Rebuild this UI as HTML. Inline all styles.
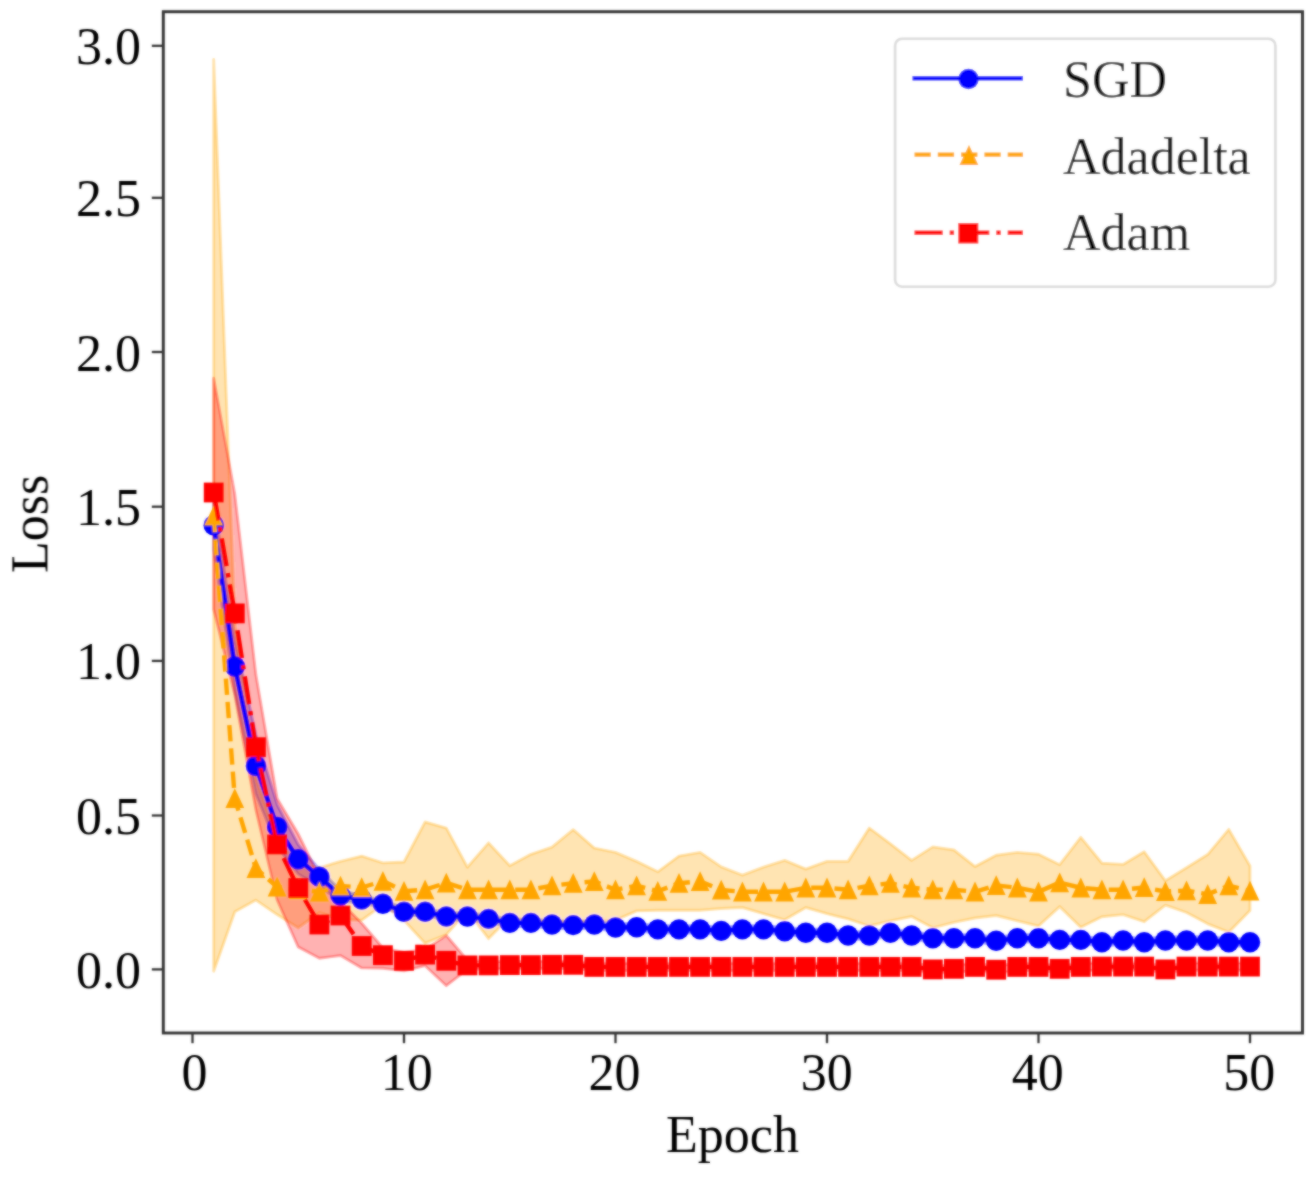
<!DOCTYPE html>
<html><head><meta charset="utf-8"><title>Loss vs Epoch</title>
<style>
html,body{margin:0;padding:0;background:#fff;width:1315px;height:1179px;overflow:hidden;font-family:"Liberation Serif",serif;}
svg{display:block;}
</style></head><body>
<svg width="1315" height="1179" viewBox="0 0 1315 1179">
<rect width="1315" height="1179" fill="#fff"/>
<defs><filter id="bl" x="0" y="0" width="1315" height="1179" filterUnits="userSpaceOnUse"><feGaussianBlur in="SourceGraphic" stdDeviation="0.8" result="b"/><feComposite in="b" in2="SourceGraphic" operator="arithmetic" k1="0" k2="0.65" k3="0.35" k4="0"/></filter></defs>
<g filter="url(#bl)">
<defs><clipPath id="ax"><rect x="163.3" y="11.7" width="1139.2" height="1021"/></clipPath></defs>
<g clip-path="url(#ax)">
<polygon points="213.7,500.5 234.8,639.3 255.9,735.1 277.1,804.7 298.2,844.7 319.4,869.4 340.5,890.0 361.7,895.8 382.9,900.1 404.0,908.1 425.1,908.1 446.3,912.8 467.4,912.8 488.6,915.2 509.8,919.2 530.9,919.2 552.0,920.8 573.2,921.4 594.3,920.8 615.5,923.8 636.6,923.5 657.8,925.7 679.0,925.7 700.1,925.7 721.2,927.2 742.4,925.7 763.5,925.7 784.7,927.5 805.8,929.1 827.0,929.1 848.1,931.8 869.3,931.8 890.4,929.1 911.6,931.8 932.8,934.6 953.9,934.6 975.0,934.6 996.2,937.1 1017.3,934.6 1038.5,934.6 1059.7,936.2 1080.8,936.2 1101.9,938.6 1123.1,936.8 1144.2,938.6 1165.4,936.8 1186.5,936.8 1207.7,936.8 1228.8,938.6 1250.0,938.6 1250.0,946.0 1228.8,946.0 1207.7,944.2 1186.5,944.2 1165.4,944.2 1144.2,946.0 1123.1,944.2 1101.9,946.0 1080.8,943.5 1059.7,943.5 1038.5,942.0 1017.3,942.0 996.2,944.5 975.0,942.0 953.9,942.0 932.8,942.0 911.6,939.2 890.4,936.5 869.3,939.2 848.1,939.2 827.0,936.5 805.8,936.5 784.7,934.9 763.5,933.1 742.4,933.1 721.2,934.6 700.1,933.1 679.0,933.1 657.8,933.1 636.6,930.9 615.5,931.2 594.3,928.2 573.2,928.8 552.0,928.2 530.9,926.6 509.8,926.6 488.6,922.6 467.4,920.2 446.3,920.2 425.1,915.5 404.0,915.5 382.9,907.5 361.7,903.2 340.5,901.1 319.4,886.3 298.2,874.0 277.1,846.3 255.9,793.9 234.8,691.8 213.7,549.9" fill="#0000ff" fill-opacity="0.3" stroke="#0000ff" stroke-opacity="0.3" stroke-width="2.9" stroke-linejoin="round"/>
<polygon points="213.7,59.5 234.8,623.9 255.9,778.4 277.1,840.1 298.2,864.7 319.4,867.8 340.5,861.4 361.7,856.1 382.9,862.9 404.0,862.0 425.1,822.0 446.3,828.1 467.4,867.2 488.6,842.9 509.8,865.7 530.9,854.3 552.0,847.2 573.2,829.7 594.3,848.1 615.5,852.4 636.6,861.4 657.8,871.8 679.0,856.1 700.1,852.4 721.2,866.9 742.4,875.2 763.5,867.2 784.7,860.4 805.8,869.1 827.0,861.4 848.1,861.4 869.3,828.1 890.4,843.8 911.6,860.4 932.8,846.9 953.9,850.0 975.0,866.6 996.2,855.2 1017.3,852.4 1038.5,854.3 1059.7,864.7 1080.8,837.4 1101.9,863.2 1123.1,864.4 1144.2,851.8 1165.4,880.8 1186.5,867.8 1207.7,854.6 1228.8,829.4 1250.0,866.0 1250.0,910.6 1228.8,932.2 1207.7,923.8 1186.5,912.5 1165.4,905.1 1144.2,921.7 1123.1,914.6 1101.9,916.8 1080.8,927.2 1059.7,906.6 1038.5,926.0 1017.3,920.8 996.2,915.5 975.0,918.0 953.9,922.3 932.8,927.8 911.6,916.5 890.4,920.8 869.3,926.0 848.1,918.9 827.0,913.7 805.8,907.5 784.7,919.8 763.5,913.7 742.4,907.5 721.2,908.5 700.1,910.3 679.0,910.3 657.8,910.3 636.6,910.9 615.5,920.2 594.3,921.7 573.2,921.7 552.0,921.7 530.9,921.7 509.8,917.1 488.6,938.6 467.4,910.9 446.3,934.6 425.1,943.2 404.0,920.2 382.9,904.8 361.7,920.2 340.5,919.2 319.4,912.5 298.2,927.8 277.1,914.6 255.9,900.1 234.8,911.8 213.7,971.2" fill="#ffa500" fill-opacity="0.3" stroke="#ffa500" stroke-opacity="0.3" stroke-width="2.9" stroke-linejoin="round"/>
<polygon points="213.7,378.3 234.8,494.3 255.9,674.8 277.1,798.5 298.2,834.0 319.4,877.1 340.5,901.7 361.7,923.2 382.9,947.9 404.0,952.5 425.1,949.4 446.3,935.5 467.4,960.2 488.6,961.7 509.8,961.4 530.9,961.4 552.0,961.1 573.2,961.1 594.3,963.2 615.5,963.2 636.6,963.2 657.8,963.2 679.0,963.2 700.1,963.2 721.2,963.2 742.4,963.2 763.5,963.2 784.7,963.2 805.8,963.2 827.0,963.2 848.1,963.2 869.3,963.2 890.4,963.2 911.6,963.2 932.8,965.7 953.9,965.1 975.0,963.2 996.2,966.0 1017.3,963.2 1038.5,963.2 1059.7,965.1 1080.8,963.2 1101.9,962.9 1123.1,962.9 1144.2,962.9 1165.4,965.7 1186.5,962.9 1207.7,962.9 1228.8,962.9 1250.0,962.9 1250.0,970.3 1228.8,970.3 1207.7,970.3 1186.5,970.3 1165.4,973.1 1144.2,970.3 1123.1,970.3 1101.9,970.3 1080.8,970.6 1059.7,972.5 1038.5,970.6 1017.3,970.6 996.2,973.4 975.0,970.6 953.9,972.5 932.8,973.1 911.6,970.6 890.4,970.6 869.3,970.6 848.1,970.6 827.0,970.6 805.8,970.6 784.7,970.6 763.5,970.6 742.4,970.6 721.2,970.6 700.1,970.6 679.0,970.6 657.8,970.6 636.6,970.6 615.5,970.6 594.3,970.6 573.2,968.5 552.0,968.5 530.9,968.8 509.8,968.8 488.6,969.1 467.4,969.4 446.3,985.7 425.1,965.7 404.0,970.9 382.9,968.2 361.7,967.9 340.5,955.5 319.4,958.3 298.2,946.9 277.1,899.8 255.9,809.9 234.8,695.2 213.7,609.4" fill="#ff0000" fill-opacity="0.3" stroke="#ff0000" stroke-opacity="0.3" stroke-width="2.9" stroke-linejoin="round"/>
<polyline points="213.7,525.2 234.8,666.5 255.9,766.0 277.1,826.9 298.2,859.2 319.4,876.8 340.5,895.5 361.7,899.5 382.9,903.8 404.0,911.8 425.1,911.8 446.3,916.5 467.4,916.5 488.6,918.9 509.8,922.9 530.9,922.9 552.0,924.5 573.2,925.1 594.3,924.5 615.5,927.5 636.6,927.2 657.8,929.4 679.0,929.4 700.1,929.4 721.2,930.9 742.4,929.4 763.5,929.4 784.7,931.2 805.8,932.8 827.0,932.8 848.1,935.5 869.3,935.5 890.4,932.8 911.6,935.5 932.8,938.3 953.9,938.3 975.0,938.3 996.2,940.8 1017.3,938.3 1038.5,938.3 1059.7,939.9 1080.8,939.9 1101.9,942.3 1123.1,940.5 1144.2,942.3 1165.4,940.5 1186.5,940.5 1207.7,940.5 1228.8,942.3 1250.0,942.3" fill="none" stroke="#0000ff" stroke-width="4.4" stroke-linejoin="round"/>
<circle cx="213.7" cy="525.2" r="10.2" fill="#0000ff"/><circle cx="234.8" cy="666.5" r="10.2" fill="#0000ff"/><circle cx="255.9" cy="766.0" r="10.2" fill="#0000ff"/><circle cx="277.1" cy="826.9" r="10.2" fill="#0000ff"/><circle cx="298.2" cy="859.2" r="10.2" fill="#0000ff"/><circle cx="319.4" cy="876.8" r="10.2" fill="#0000ff"/><circle cx="340.5" cy="895.5" r="10.2" fill="#0000ff"/><circle cx="361.7" cy="899.5" r="10.2" fill="#0000ff"/><circle cx="382.9" cy="903.8" r="10.2" fill="#0000ff"/><circle cx="404.0" cy="911.8" r="10.2" fill="#0000ff"/><circle cx="425.1" cy="911.8" r="10.2" fill="#0000ff"/><circle cx="446.3" cy="916.5" r="10.2" fill="#0000ff"/><circle cx="467.4" cy="916.5" r="10.2" fill="#0000ff"/><circle cx="488.6" cy="918.9" r="10.2" fill="#0000ff"/><circle cx="509.8" cy="922.9" r="10.2" fill="#0000ff"/><circle cx="530.9" cy="922.9" r="10.2" fill="#0000ff"/><circle cx="552.0" cy="924.5" r="10.2" fill="#0000ff"/><circle cx="573.2" cy="925.1" r="10.2" fill="#0000ff"/><circle cx="594.3" cy="924.5" r="10.2" fill="#0000ff"/><circle cx="615.5" cy="927.5" r="10.2" fill="#0000ff"/><circle cx="636.6" cy="927.2" r="10.2" fill="#0000ff"/><circle cx="657.8" cy="929.4" r="10.2" fill="#0000ff"/><circle cx="679.0" cy="929.4" r="10.2" fill="#0000ff"/><circle cx="700.1" cy="929.4" r="10.2" fill="#0000ff"/><circle cx="721.2" cy="930.9" r="10.2" fill="#0000ff"/><circle cx="742.4" cy="929.4" r="10.2" fill="#0000ff"/><circle cx="763.5" cy="929.4" r="10.2" fill="#0000ff"/><circle cx="784.7" cy="931.2" r="10.2" fill="#0000ff"/><circle cx="805.8" cy="932.8" r="10.2" fill="#0000ff"/><circle cx="827.0" cy="932.8" r="10.2" fill="#0000ff"/><circle cx="848.1" cy="935.5" r="10.2" fill="#0000ff"/><circle cx="869.3" cy="935.5" r="10.2" fill="#0000ff"/><circle cx="890.4" cy="932.8" r="10.2" fill="#0000ff"/><circle cx="911.6" cy="935.5" r="10.2" fill="#0000ff"/><circle cx="932.8" cy="938.3" r="10.2" fill="#0000ff"/><circle cx="953.9" cy="938.3" r="10.2" fill="#0000ff"/><circle cx="975.0" cy="938.3" r="10.2" fill="#0000ff"/><circle cx="996.2" cy="940.8" r="10.2" fill="#0000ff"/><circle cx="1017.3" cy="938.3" r="10.2" fill="#0000ff"/><circle cx="1038.5" cy="938.3" r="10.2" fill="#0000ff"/><circle cx="1059.7" cy="939.9" r="10.2" fill="#0000ff"/><circle cx="1080.8" cy="939.9" r="10.2" fill="#0000ff"/><circle cx="1101.9" cy="942.3" r="10.2" fill="#0000ff"/><circle cx="1123.1" cy="940.5" r="10.2" fill="#0000ff"/><circle cx="1144.2" cy="942.3" r="10.2" fill="#0000ff"/><circle cx="1165.4" cy="940.5" r="10.2" fill="#0000ff"/><circle cx="1186.5" cy="940.5" r="10.2" fill="#0000ff"/><circle cx="1207.7" cy="940.5" r="10.2" fill="#0000ff"/><circle cx="1228.8" cy="942.3" r="10.2" fill="#0000ff"/><circle cx="1250.0" cy="942.3" r="10.2" fill="#0000ff"/>
<polyline points="213.7,516.0 234.8,798.5 255.9,868.4 277.1,886.9 298.2,889.4 319.4,891.8 340.5,886.0 361.7,887.5 382.9,881.1 404.0,891.2 425.1,889.7 446.3,882.9 467.4,889.7 488.6,889.7 509.8,889.7 530.9,889.7 552.0,885.7 573.2,883.2 594.3,881.4 615.5,889.7 636.6,885.7 657.8,891.2 679.0,883.2 700.1,881.4 721.2,890.0 742.4,891.8 763.5,891.8 784.7,891.8 805.8,887.8 827.0,887.8 848.1,889.7 869.3,885.7 890.4,883.2 911.6,887.8 932.8,889.7 953.9,889.7 975.0,891.8 996.2,885.4 1017.3,887.8 1038.5,891.8 1059.7,882.6 1080.8,887.8 1101.9,889.7 1123.1,889.7 1144.2,887.5 1165.4,891.5 1186.5,890.6 1207.7,894.3 1228.8,885.7 1250.0,890.9" fill="none" stroke="#ffa500" stroke-width="4.4" stroke-dasharray="16.3 7" stroke-linejoin="round"/>
<polygon points="213.7,505.8 204.2,525.6 223.1,525.6" fill="#ffa500"/><polygon points="234.8,788.3 225.4,808.1 244.2,808.1" fill="#ffa500"/><polygon points="255.9,858.2 246.5,878.0 265.3,878.0" fill="#ffa500"/><polygon points="277.1,876.7 267.7,896.5 286.5,896.5" fill="#ffa500"/><polygon points="298.2,879.2 288.9,899.0 307.6,899.0" fill="#ffa500"/><polygon points="319.4,881.6 310.0,901.4 328.8,901.4" fill="#ffa500"/><polygon points="340.5,875.8 331.1,895.6 349.9,895.6" fill="#ffa500"/><polygon points="361.7,877.3 352.3,897.1 371.1,897.1" fill="#ffa500"/><polygon points="382.9,870.9 373.5,890.7 392.2,890.7" fill="#ffa500"/><polygon points="404.0,881.0 394.6,900.8 413.4,900.8" fill="#ffa500"/><polygon points="425.1,879.5 415.8,899.3 434.5,899.3" fill="#ffa500"/><polygon points="446.3,872.7 436.9,892.5 455.7,892.5" fill="#ffa500"/><polygon points="467.4,879.5 458.1,899.3 476.8,899.3" fill="#ffa500"/><polygon points="488.6,879.5 479.2,899.3 498.0,899.3" fill="#ffa500"/><polygon points="509.8,879.5 500.4,899.3 519.1,899.3" fill="#ffa500"/><polygon points="530.9,879.5 521.5,899.3 540.3,899.3" fill="#ffa500"/><polygon points="552.0,875.5 542.6,895.3 561.4,895.3" fill="#ffa500"/><polygon points="573.2,873.0 563.8,892.8 582.6,892.8" fill="#ffa500"/><polygon points="594.3,871.2 584.9,891.0 603.7,891.0" fill="#ffa500"/><polygon points="615.5,879.5 606.1,899.3 624.9,899.3" fill="#ffa500"/><polygon points="636.6,875.5 627.2,895.3 646.0,895.3" fill="#ffa500"/><polygon points="657.8,881.0 648.4,900.8 667.2,900.8" fill="#ffa500"/><polygon points="679.0,873.0 669.6,892.8 688.4,892.8" fill="#ffa500"/><polygon points="700.1,871.2 690.7,891.0 709.5,891.0" fill="#ffa500"/><polygon points="721.2,879.8 711.9,899.6 730.6,899.6" fill="#ffa500"/><polygon points="742.4,881.6 733.0,901.4 751.8,901.4" fill="#ffa500"/><polygon points="763.5,881.6 754.1,901.4 772.9,901.4" fill="#ffa500"/><polygon points="784.7,881.6 775.3,901.4 794.1,901.4" fill="#ffa500"/><polygon points="805.8,877.6 796.4,897.4 815.2,897.4" fill="#ffa500"/><polygon points="827.0,877.6 817.6,897.4 836.4,897.4" fill="#ffa500"/><polygon points="848.1,879.5 838.8,899.3 857.5,899.3" fill="#ffa500"/><polygon points="869.3,875.5 859.9,895.3 878.7,895.3" fill="#ffa500"/><polygon points="890.4,873.0 881.0,892.8 899.8,892.8" fill="#ffa500"/><polygon points="911.6,877.6 902.2,897.4 921.0,897.4" fill="#ffa500"/><polygon points="932.8,879.5 923.4,899.3 942.1,899.3" fill="#ffa500"/><polygon points="953.9,879.5 944.5,899.3 963.3,899.3" fill="#ffa500"/><polygon points="975.0,881.6 965.6,901.4 984.4,901.4" fill="#ffa500"/><polygon points="996.2,875.2 986.8,895.0 1005.6,895.0" fill="#ffa500"/><polygon points="1017.3,877.6 1007.9,897.4 1026.8,897.4" fill="#ffa500"/><polygon points="1038.5,881.6 1029.1,901.4 1047.9,901.4" fill="#ffa500"/><polygon points="1059.7,872.4 1050.2,892.2 1069.1,892.2" fill="#ffa500"/><polygon points="1080.8,877.6 1071.4,897.4 1090.2,897.4" fill="#ffa500"/><polygon points="1101.9,879.5 1092.5,899.3 1111.3,899.3" fill="#ffa500"/><polygon points="1123.1,879.5 1113.7,899.3 1132.5,899.3" fill="#ffa500"/><polygon points="1144.2,877.3 1134.8,897.1 1153.7,897.1" fill="#ffa500"/><polygon points="1165.4,881.3 1156.0,901.1 1174.8,901.1" fill="#ffa500"/><polygon points="1186.5,880.4 1177.1,900.2 1196.0,900.2" fill="#ffa500"/><polygon points="1207.7,884.1 1198.3,903.9 1217.1,903.9" fill="#ffa500"/><polygon points="1228.8,875.5 1219.4,895.3 1238.2,895.3" fill="#ffa500"/><polygon points="1250.0,880.7 1240.6,900.5 1259.4,900.5" fill="#ffa500"/>
<polyline points="213.7,492.5 234.8,613.4 255.9,747.2 277.1,844.4 298.2,888.1 319.4,924.5 340.5,915.5 361.7,946.0 382.9,955.2 404.0,960.8 425.1,954.6 446.3,960.8 467.4,965.4 488.6,965.4 509.8,965.1 530.9,965.1 552.0,964.8 573.2,964.8 594.3,966.9 615.5,966.9 636.6,966.9 657.8,966.9 679.0,966.9 700.1,966.9 721.2,966.9 742.4,966.9 763.5,966.9 784.7,966.9 805.8,966.9 827.0,966.9 848.1,966.9 869.3,966.9 890.4,966.9 911.6,966.9 932.8,969.4 953.9,968.8 975.0,966.9 996.2,969.7 1017.3,966.9 1038.5,966.9 1059.7,968.8 1080.8,966.9 1101.9,966.6 1123.1,966.6 1144.2,966.6 1165.4,969.4 1186.5,966.6 1207.7,966.6 1228.8,966.6 1250.0,966.6" fill="none" stroke="#ff0000" stroke-width="4.4" stroke-dasharray="28.2 7 4.4 7" stroke-linejoin="round"/>
<rect x="203.8" y="482.6" width="19.8" height="19.8" fill="#ff0000"/><rect x="224.9" y="603.5" width="19.8" height="19.8" fill="#ff0000"/><rect x="246.0" y="737.3" width="19.8" height="19.8" fill="#ff0000"/><rect x="267.2" y="834.5" width="19.8" height="19.8" fill="#ff0000"/><rect x="288.4" y="878.2" width="19.8" height="19.8" fill="#ff0000"/><rect x="309.5" y="914.6" width="19.8" height="19.8" fill="#ff0000"/><rect x="330.6" y="905.6" width="19.8" height="19.8" fill="#ff0000"/><rect x="351.8" y="936.1" width="19.8" height="19.8" fill="#ff0000"/><rect x="373.0" y="945.3" width="19.8" height="19.8" fill="#ff0000"/><rect x="394.1" y="950.9" width="19.8" height="19.8" fill="#ff0000"/><rect x="415.2" y="944.7" width="19.8" height="19.8" fill="#ff0000"/><rect x="436.4" y="950.9" width="19.8" height="19.8" fill="#ff0000"/><rect x="457.6" y="955.5" width="19.8" height="19.8" fill="#ff0000"/><rect x="478.7" y="955.5" width="19.8" height="19.8" fill="#ff0000"/><rect x="499.9" y="955.2" width="19.8" height="19.8" fill="#ff0000"/><rect x="521.0" y="955.2" width="19.8" height="19.8" fill="#ff0000"/><rect x="542.1" y="954.9" width="19.8" height="19.8" fill="#ff0000"/><rect x="563.3" y="954.9" width="19.8" height="19.8" fill="#ff0000"/><rect x="584.4" y="957.0" width="19.8" height="19.8" fill="#ff0000"/><rect x="605.6" y="957.0" width="19.8" height="19.8" fill="#ff0000"/><rect x="626.8" y="957.0" width="19.8" height="19.8" fill="#ff0000"/><rect x="647.9" y="957.0" width="19.8" height="19.8" fill="#ff0000"/><rect x="669.1" y="957.0" width="19.8" height="19.8" fill="#ff0000"/><rect x="690.2" y="957.0" width="19.8" height="19.8" fill="#ff0000"/><rect x="711.4" y="957.0" width="19.8" height="19.8" fill="#ff0000"/><rect x="732.5" y="957.0" width="19.8" height="19.8" fill="#ff0000"/><rect x="753.6" y="957.0" width="19.8" height="19.8" fill="#ff0000"/><rect x="774.8" y="957.0" width="19.8" height="19.8" fill="#ff0000"/><rect x="795.9" y="957.0" width="19.8" height="19.8" fill="#ff0000"/><rect x="817.1" y="957.0" width="19.8" height="19.8" fill="#ff0000"/><rect x="838.2" y="957.0" width="19.8" height="19.8" fill="#ff0000"/><rect x="859.4" y="957.0" width="19.8" height="19.8" fill="#ff0000"/><rect x="880.5" y="957.0" width="19.8" height="19.8" fill="#ff0000"/><rect x="901.7" y="957.0" width="19.8" height="19.8" fill="#ff0000"/><rect x="922.9" y="959.5" width="19.8" height="19.8" fill="#ff0000"/><rect x="944.0" y="958.9" width="19.8" height="19.8" fill="#ff0000"/><rect x="965.1" y="957.0" width="19.8" height="19.8" fill="#ff0000"/><rect x="986.3" y="959.8" width="19.8" height="19.8" fill="#ff0000"/><rect x="1007.4" y="957.0" width="19.8" height="19.8" fill="#ff0000"/><rect x="1028.6" y="957.0" width="19.8" height="19.8" fill="#ff0000"/><rect x="1049.8" y="958.9" width="19.8" height="19.8" fill="#ff0000"/><rect x="1070.9" y="957.0" width="19.8" height="19.8" fill="#ff0000"/><rect x="1092.0" y="956.7" width="19.8" height="19.8" fill="#ff0000"/><rect x="1113.2" y="956.7" width="19.8" height="19.8" fill="#ff0000"/><rect x="1134.3" y="956.7" width="19.8" height="19.8" fill="#ff0000"/><rect x="1155.5" y="959.5" width="19.8" height="19.8" fill="#ff0000"/><rect x="1176.6" y="956.7" width="19.8" height="19.8" fill="#ff0000"/><rect x="1197.8" y="956.7" width="19.8" height="19.8" fill="#ff0000"/><rect x="1218.9" y="956.7" width="19.8" height="19.8" fill="#ff0000"/><rect x="1240.1" y="956.7" width="19.8" height="19.8" fill="#ff0000"/>
</g>
<rect x="163.3" y="11.7" width="1139.2" height="1021.3" fill="none" stroke="#333333" stroke-width="2.9"/>
<line x1="151.8" y1="969.4" x2="163.3" y2="969.4" stroke="#333333" stroke-width="2.3"/>
<text x="141" y="987.9" text-anchor="end" font-family='"Liberation Serif", serif' font-size="52" fill="#000">0.0</text>
<line x1="151.8" y1="815.5" x2="163.3" y2="815.5" stroke="#333333" stroke-width="2.3"/>
<text x="141" y="834.0" text-anchor="end" font-family='"Liberation Serif", serif' font-size="52" fill="#000">0.5</text>
<line x1="151.8" y1="660.9" x2="163.3" y2="660.9" stroke="#333333" stroke-width="2.3"/>
<text x="141" y="679.4" text-anchor="end" font-family='"Liberation Serif", serif' font-size="52" fill="#000">1.0</text>
<line x1="151.8" y1="506.7" x2="163.3" y2="506.7" stroke="#333333" stroke-width="2.3"/>
<text x="141" y="525.2" text-anchor="end" font-family='"Liberation Serif", serif' font-size="52" fill="#000">1.5</text>
<line x1="151.8" y1="352.0" x2="163.3" y2="352.0" stroke="#333333" stroke-width="2.3"/>
<text x="141" y="370.5" text-anchor="end" font-family='"Liberation Serif", serif' font-size="52" fill="#000">2.0</text>
<line x1="151.8" y1="197.8" x2="163.3" y2="197.8" stroke="#333333" stroke-width="2.3"/>
<text x="141" y="216.3" text-anchor="end" font-family='"Liberation Serif", serif' font-size="52" fill="#000">2.5</text>
<line x1="151.8" y1="45.8" x2="163.3" y2="45.8" stroke="#333333" stroke-width="2.3"/>
<text x="141" y="64.3" text-anchor="end" font-family='"Liberation Serif", serif' font-size="52" fill="#000">3.0</text>
<line x1="192.5" y1="1033" x2="192.5" y2="1043.2" stroke="#333333" stroke-width="2.3"/>
<text x="194.6" y="1090" text-anchor="middle" font-family='"Liberation Serif", serif' font-size="52" fill="#000">0</text>
<line x1="404.0" y1="1033" x2="404.0" y2="1043.2" stroke="#333333" stroke-width="2.3"/>
<text x="406.7" y="1090" text-anchor="middle" font-family='"Liberation Serif", serif' font-size="52" fill="#000">10</text>
<line x1="615.5" y1="1033" x2="615.5" y2="1043.2" stroke="#333333" stroke-width="2.3"/>
<text x="614.6" y="1090" text-anchor="middle" font-family='"Liberation Serif", serif' font-size="52" fill="#000">20</text>
<line x1="827.0" y1="1033" x2="827.0" y2="1043.2" stroke="#333333" stroke-width="2.3"/>
<text x="826.8" y="1090" text-anchor="middle" font-family='"Liberation Serif", serif' font-size="52" fill="#000">30</text>
<line x1="1038.5" y1="1033" x2="1038.5" y2="1043.2" stroke="#333333" stroke-width="2.3"/>
<text x="1037.8" y="1090" text-anchor="middle" font-family='"Liberation Serif", serif' font-size="52" fill="#000">40</text>
<line x1="1250.0" y1="1033" x2="1250.0" y2="1043.2" stroke="#333333" stroke-width="2.3"/>
<text x="1249.3" y="1090" text-anchor="middle" font-family='"Liberation Serif", serif' font-size="52" fill="#000">50</text>
<text x="732.5" y="1152.4" text-anchor="middle" font-family='"Liberation Serif", serif' font-size="52" fill="#000">Epoch</text>
<text transform="translate(47.4,524) rotate(-90)" text-anchor="middle" font-family='"Liberation Serif", serif' font-size="52" fill="#000">Loss</text>
<rect x="895.1" y="38.7" width="380.3" height="248" rx="7" ry="7" fill="#fff" fill-opacity="0.8" stroke="#dcdcdc" stroke-width="2.6"/>
<line x1="912.5" y1="78.3" x2="1023.0" y2="78.3" stroke="#0000ff" stroke-width="4.4"/>
<circle cx="968.5" cy="79.0" r="10.2" fill="#0000ff"/>
<text x="1063" y="97" font-family='"Liberation Serif", serif' font-size="52" fill="#000">SGD</text>
<line x1="914.5" y1="154.6" x2="1023.0" y2="154.6" stroke="#ffa500" stroke-width="4.4" stroke-dasharray="16.3 7"/>
<polygon points="969.0,145.1 959.5,165.1 978.3,165.1" fill="#ffa500"/>
<text x="1063" y="173.5" font-family='"Liberation Serif", serif' font-size="52" fill="#000">Adadelta</text>
<line x1="914.5" y1="232.7" x2="1023.0" y2="232.7" stroke="#ff0000" stroke-width="4.4" stroke-dasharray="28.2 7 4.4 7"/>
<rect x="958.3" y="223.0" width="20" height="20.5" fill="#ff0000"/>
<text x="1063" y="250.2" font-family='"Liberation Serif", serif' font-size="52" fill="#000">Adam</text>
</g>
</svg>
</body></html>
